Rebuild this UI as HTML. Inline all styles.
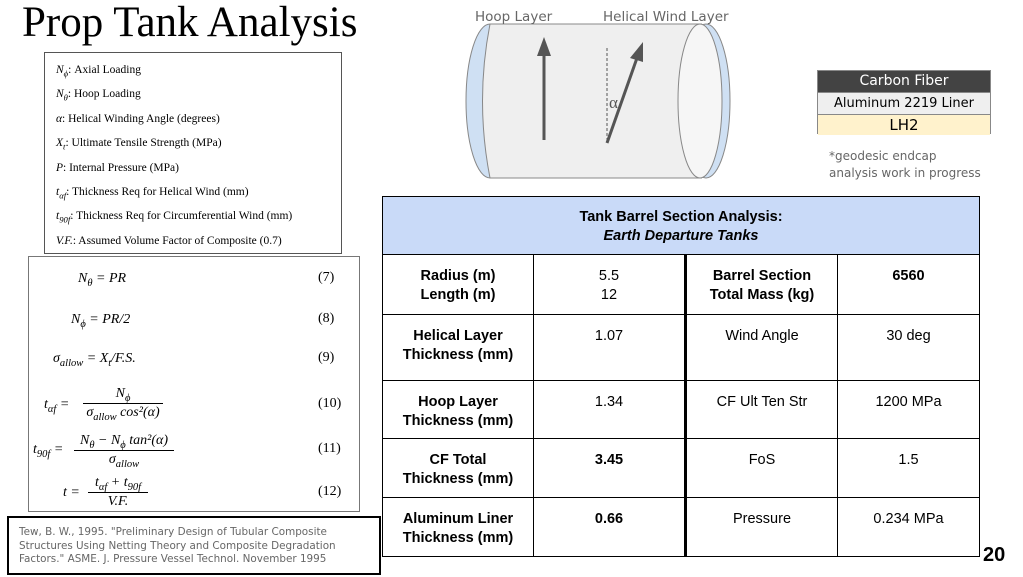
<!DOCTYPE html>
<html><head><meta charset="utf-8"><style>
body{margin:0;width:1023px;height:577px;background:#fff;position:relative;overflow:hidden;font-family:"Liberation Sans",sans-serif}
.a{position:absolute}
.serif{font-family:"Liberation Serif",serif}
sub{line-height:0;font-size:75%}
sup{line-height:0}
.leg div{height:24.4px;line-height:24.4px;white-space:nowrap}
table{border-collapse:collapse;position:absolute;left:382px;top:196px;width:598px}
td{border:1.5px solid #000;text-align:center;font-size:14.5px;vertical-align:top;padding-top:12px;line-height:19px}
.b{font-weight:bold}
.eq{position:absolute;font-family:"Liberation Serif",serif;font-style:italic;font-size:14px;line-height:18px;white-space:nowrap}
.num{position:absolute;left:318px;font-family:"Liberation Serif",serif;font-size:14px}
</style></head><body>
<div class="a serif" style="left:22px;top:-2px;font-size:43px;">Prop Tank Analysis</div>
<div class="a serif leg" style="left:44px;top:52px;width:298px;height:202px;border:1px solid #555;font-size:11.5px;padding:5px 0 0 11px;box-sizing:border-box">
<div><i>N<sub>ϕ</sub></i>: Axial Loading</div><div><i>N<sub>θ</sub></i>: Hoop Loading</div><div><i>α</i>: Helical Winding Angle (degrees)</div><div><i>X<sub>t</sub></i>: Ultimate Tensile Strength (MPa)</div><div><i>P</i>: Internal Pressure (MPa)</div><div><i>t<sub>αf</sub></i>: Thickness Req for Helical Wind (mm)</div><div><i>t<sub>90f</sub></i>: Thickness Req for Circumferential Wind (mm)</div><div><i>V.F.</i>: Assumed Volume Factor of Composite (0.7)</div>
</div>
<div class="a" style="left:28px;top:256px;width:332px;height:256px;border:1px solid #777;box-sizing:border-box"></div>
<div class="eq" style="left:78px;top:270px">N<sub>θ</sub> = PR</div><div class="num" style="top:270px">(7)</div>
<div class="eq" style="left:71px;top:311px">N<sub>ϕ</sub> = PR/2</div><div class="num" style="top:311px">(8)</div>
<div class="eq" style="left:53px;top:350px">σ<sub>allow</sub> = X<sub>t</sub>/F.S.</div><div class="num" style="top:350px">(9)</div>
<div class="eq" style="left:44px;top:396px">t<sub>αf</sub> =</div><div class="eq" style="left:83px;top:385px;width:80px;text-align:center;border-bottom:1px solid #000">N<sub>ϕ</sub></div><div class="eq" style="left:83px;top:404px;width:80px;text-align:center">σ<sub>allow</sub> cos²(α)</div><div class="num" style="top:396px">(10)</div>
<div class="eq" style="left:33px;top:441px">t<sub>90f</sub> =</div><div class="eq" style="left:74px;top:432px;width:100px;text-align:center;border-bottom:1px solid #000">N<sub>θ</sub> − N<sub>ϕ</sub> tan²(α)</div><div class="eq" style="left:74px;top:451px;width:100px;text-align:center">σ<sub>allow</sub></div><div class="num" style="top:441px">(11)</div>
<div class="eq" style="left:63px;top:484px">t =</div><div class="eq" style="left:88px;top:474px;width:60px;text-align:center;border-bottom:1px solid #000">t<sub>αf</sub> + t<sub>90f</sub></div><div class="eq" style="left:88px;top:493px;width:60px;text-align:center">V.F.</div><div class="num" style="top:484px">(12)</div>
<div class="a" style="left:7px;top:516px;width:374px;height:59px;border:2px solid #000;box-sizing:border-box;font-family:'DejaVu Sans',sans-serif;font-size:10.4px;color:#666;line-height:13.5px;padding:8px 30px 0 10px">Tew, B. W., 1995. "Preliminary Design of Tubular Composite Structures Using Netting Theory and Composite Degradation Factors." ASME. J. Pressure Vessel Technol. November 1995</div>
<svg class="a" style="left:0;top:0" width="1023" height="200">
<ellipse cx="490" cy="101" rx="24" ry="77" fill="#cfe0f3" stroke="#888"/>
<rect x="490" y="24" width="212" height="154" fill="#efefef"/>
<path d="M490 24 Q475 101 490 178" fill="#efefef" stroke="#888"/>
<line x1="490" y1="24" x2="702" y2="24" stroke="#888"/><line x1="490" y1="178" x2="702" y2="178" stroke="#888"/>
<ellipse cx="706" cy="101" rx="24" ry="77" fill="#cfe0f3" stroke="#888"/>
<ellipse cx="700" cy="101" rx="22" ry="77" fill="#f6f6f6" stroke="#888"/>
<line x1="544" y1="140" x2="544" y2="52" stroke="#555" stroke-width="3"/><polygon points="544,37 537,56 551,56" fill="#555"/>
<line x1="607" y1="48" x2="607" y2="140" stroke="#555" stroke-dasharray="3,2"/>
<line x1="607" y1="143" x2="637" y2="58" stroke="#555" stroke-width="3"/><polygon points="643,42 630,58 643,62" fill="#555"/>
<text x="609" y="108" font-family="Liberation Serif" font-size="17" fill="#555">α</text>
<text x="475" y="21" font-family="DejaVu Sans" font-size="13.5" fill="#666">Hoop Layer</text>
<text x="603" y="21" font-family="DejaVu Sans" font-size="13.5" fill="#666">Helical Wind Layer</text>
</svg>
<div class="a" style="left:817px;top:70px;width:174px;height:64px;border:1px solid #888;box-sizing:border-box;text-align:center;font-family:'DejaVu Sans',sans-serif">
<div style="background:#434343;color:#fff;height:21px;font-size:14px;line-height:21px">Carbon Fiber</div>
<div style="background:#efefef;height:21px;font-size:13px;line-height:21px;border-top:1px solid #888;border-bottom:1px solid #888">Aluminum 2219 Liner</div>
<div style="background:#fff2cc;height:20px;font-size:15px;line-height:20px">LH2</div></div>
<div class="a" style="left:829px;top:148px;font-family:'DejaVu Sans',sans-serif;font-size:12px;color:#666;line-height:17px">*geodesic endcap<br>analysis work in progress</div>
<table>
<tr style="height:58px"><td colspan="4" class="b" style="background:#c9daf8;padding-top:11px">Tank Barrel Section Analysis:<br><i>Earth Departure Tanks</i></td></tr>
<tr style="height:60px"><td class="b" style="width:148px">Radius (m)<br>Length (m)</td><td style="width:148px">5.5<br>12</td><td class="b" style="width:148px;border-left:3px solid #000">Barrel Section<br>Total Mass (kg)</td><td class="b">6560</td></tr>
<tr style="height:66px"><td class="b">Helical Layer<br>Thickness (mm)</td><td>1.07</td><td style="border-left:3px solid #000">Wind Angle</td><td>30 deg</td></tr>
<tr style="height:58px"><td class="b">Hoop Layer<br>Thickness (mm)</td><td>1.34</td><td style="border-left:3px solid #000">CF Ult Ten Str</td><td>1200 MPa</td></tr>
<tr style="height:59px"><td class="b">CF Total<br>Thickness (mm)</td><td class="b">3.45</td><td style="border-left:3px solid #000">FoS</td><td>1.5</td></tr>
<tr style="height:59px"><td class="b">Aluminum Liner<br>Thickness (mm)</td><td class="b">0.66</td><td style="border-left:3px solid #000">Pressure</td><td>0.234 MPa</td></tr>
</table>
<div class="a b" style="left:983px;top:544px;font-size:20px">20</div>
</body></html>
